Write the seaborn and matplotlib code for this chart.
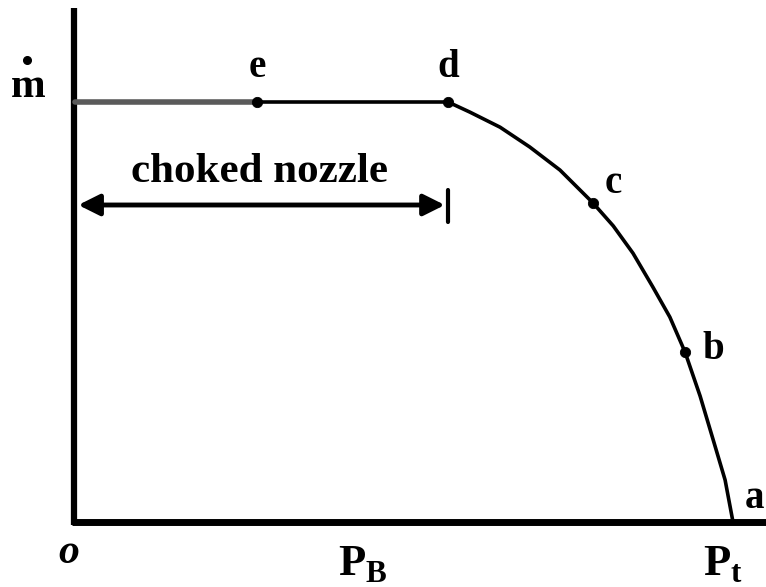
import matplotlib
matplotlib.use("Agg")
import matplotlib.pyplot as plt
import seaborn as sns
import pandas as pd

# ---- data (normalised: x = P_B / P_t, y = mdot / mdot_choked) ----
curve_x = [0.277, 0.567, 0.600, 0.646, 0.691, 0.737, 0.787, 0.818, 0.848,
           0.878, 0.904, 0.927, 0.950, 0.970, 0.988, 1.0]
curve_y = [1.0, 1.0, 0.976, 0.940, 0.893, 0.838, 0.760, 0.705, 0.640,
           0.560, 0.488, 0.405, 0.300, 0.195, 0.100, 0.0]
flat_x = [0.0, 0.277]
flat_y = [1.0, 1.0]
point_labels = ["e", "d", "c", "b", "a"]
point_x = [0.277, 0.567, 0.787, 0.927, 1.0]
point_y = [1.0, 1.0, 0.760, 0.405, 0.0]
tick_labels = ["o", "P$_\\mathregular{B}$", "P$_\\mathregular{t}$"]
tick_pos = [-0.01, 0.438, 0.985]
choked_end = 0.567
choked_text = "choked nozzle"

sns.set_theme(style="white")
plt.rcParams['font.family'] = ['Liberation Serif', 'DejaVu Serif']
plt.rcParams['mathtext.fontset'] = 'custom'
plt.rcParams['mathtext.rm'] = 'Liberation Serif:bold'
plt.rcParams['text.color'] = 'black'

fig = plt.figure(figsize=(7.66, 5.87), dpi=100)
ax = fig.add_axes([0, 0, 1, 1])
ax.set_xlim(-75 / 658, 691 / 658)
ax.set_ylim(-65 / 420, 522 / 420)
ax.axis("off")

# axes lines
ax.plot([-0.002, -0.002], [-0.008, 1.224], color="black", lw=4.5, solid_capstyle="butt")
ax.plot([-0.005, 1.06], [0, 0], color="black", lw=5, solid_capstyle="butt")

# flat (choked) part
df_flat = pd.DataFrame({"x": flat_x, "y": flat_y})
sns.lineplot(data=df_flat, x="x", y="y", ax=ax, color="#5a5a5a", lw=4, sort=False)
df_curve = pd.DataFrame({"x": curve_x, "y": curve_y})
sns.lineplot(data=df_curve, x="x", y="y", ax=ax, color="black", lw=2.6, sort=False)

# points
df_pts = pd.DataFrame({"x": point_x[:-1], "y": point_y[:-1]})
sns.scatterplot(data=df_pts, x="x", y="y", ax=ax, color="black", s=55, zorder=5, edgecolor="black")

# point labels
offsets = {"e": (0, 0.083), "d": (0, 0.083), "c": (0.031, 0.047), "b": (0.043, 0.005), "a": (0.033, 0.055)}
for lab, x, y in zip(point_labels, point_x, point_y):
    dx, dy = offsets[lab]
    ax.text(x + dx, y + dy, lab, fontsize=28, fontweight="bold", ha="center", va="center")

# mdot label
ax.text(-0.071, 1.035, "m", fontsize=30, fontweight="bold", ha="center", va="center")
ax.plot([-0.073], [1.10], marker="o", color="black", ms=5.5)

# choked nozzle arrow
ya = (522 - 205) / 420
ax.annotate("", xy=(0.005, ya), xytext=(choked_end - 0.005, ya),
            arrowprops=dict(arrowstyle="<|-|>", color="black", lw=3.5, mutation_scale=32,
                            shrinkA=0, shrinkB=0))
ax.plot([choked_end, choked_end], [ya - 0.04, ya + 0.035], color="black", lw=3)
ax.text(0.281, (522 - 172) / 420, choked_text, fontsize=31, fontweight="bold", ha="center", va="center")

# tick labels
ax.text(tick_pos[0], (522 - 553) / 420, tick_labels[0], fontsize=30, fontweight="bold",
        fontstyle="italic", ha="center", va="center")
for pos, lab in zip(tick_pos[1:], tick_labels[1:]):
    ax.text(pos, (522 - 565) / 420, lab, fontsize=32, fontweight="bold", ha="center", va="center")

fig.savefig("out.png", dpi=100)
